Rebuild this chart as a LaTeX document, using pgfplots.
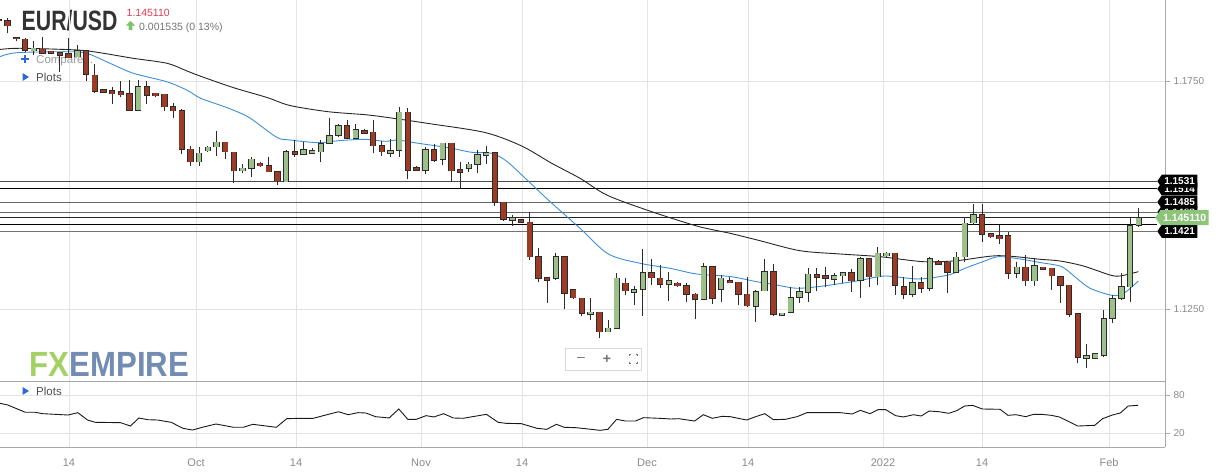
\documentclass[border=0pt]{standalone}
\usepackage{pgfplots}
\pgfplotsset{compat=1.18}
\usepackage{pgfplotstable}
\usepackage{fontspec}
\setmainfont{Liberation Sans}
\usetikzlibrary{shapes.symbols}
\definecolor{cgreen}{HTML}{9DC08B}
\definecolor{cred}{HTML}{9C3B26}
\definecolor{cedge}{HTML}{2B2B2B}
\definecolor{mablue}{HTML}{3D8FD6}
\definecolor{gridc}{HTML}{E3E3E3}
\definecolor{axisc}{HTML}{A8A8A8}
\definecolor{tickc}{HTML}{8A8A8A}
\definecolor{titlec}{HTML}{333333}
\definecolor{pricered}{HTML}{E03A55}
\definecolor{upgreen}{HTML}{7CC36A}
\definecolor{labgreen}{HTML}{8CC47A}
\definecolor{fxgreen}{HTML}{8DC63F}
\definecolor{fxblue}{HTML}{4F6FA0}
\definecolor{uiblue}{HTML}{2A6AD6}

\pgfplotstableread{
k o h l c
4 1.18171 1.18390 1.18077 1.18224
9 1.18040 1.18296 1.18040 1.18171
16 1.16871 1.17529 1.16871 1.17382
23 1.15737 1.16066 1.15643 1.15921
24 1.15978 1.16081 1.15956 1.16053
25 1.16066 1.16410 1.15869 1.16162
28 1.15540 1.15687 1.15483 1.15592
29 1.15592 1.15847 1.15408 1.15790
33 1.15298 1.15994 1.15292 1.15956
35 1.15899 1.16176 1.15884 1.15994
36 1.15921 1.16031 1.15921 1.15972
37 1.15956 1.16213 1.15724 1.16125
38 1.16140 1.16689 1.16140 1.16301
39 1.16322 1.16564 1.16285 1.16520
41 1.16250 1.16564 1.16228 1.16432
45 1.15921 1.16228 1.15847 1.15972
46 1.15994 1.16930 1.15847 1.16820
49 1.15555 1.16066 1.15467 1.15994
51 1.15796 1.16154 1.15665 1.16140
54 1.15592 1.15737 1.15518 1.15680
55 1.15680 1.15994 1.15496 1.15884
56 1.15884 1.16081 1.15687 1.15934
59 1.14458 1.14568 1.14327 1.14509
64 1.13180 1.13728 1.13143 1.13654
68 1.12390 1.12741 1.12265 1.12434
70 1.12009 1.12265 1.12009 1.12083
71 1.12083 1.13290 1.12083 1.13180
73 1.12873 1.13011 1.12594 1.12923
74 1.12939 1.13816 1.12353 1.13290
77 1.13048 1.13325 1.12682 1.13127
81 1.12719 1.13522 1.12719 1.13434
83 1.12939 1.13252 1.12667 1.13180
87 1.12572 1.12923 1.12215 1.12886
88 1.12908 1.13597 1.12908 1.13325
90 1.12369 1.12426 1.12353 1.12412
91 1.12441 1.12996 1.12412 1.12754
92 1.12763 1.12996 1.12632 1.12879
93 1.12873 1.13412 1.12660 1.13268
96 1.13158 1.13303 1.13033 1.13230
97 1.13237 1.13325 1.13070 1.13290
99 1.13143 1.13654 1.12741 1.13597
101 1.13215 1.13860 1.13033 1.13728
102 1.13676 1.13763 1.13654 1.13728
105 1.12829 1.13450 1.12763 1.13083
107 1.12961 1.13654 1.12908 1.13610
110 1.13312 1.13763 1.13290 1.13640
111 1.13654 1.14496 1.13544 1.14386
112 1.14399 1.14809 1.14349 1.14568
117 1.13290 1.13544 1.13180 1.13421
119 1.13127 1.13619 1.13011 1.13456
125 1.11426 1.11739 1.11206 1.11476
126 1.11426 1.11520 1.11404 1.11520
127 1.11498 1.12485 1.11447 1.12287
128 1.12303 1.12814 1.12206 1.12726
129 1.12741 1.13290 1.12704 1.12983
130 1.12996 1.14496 1.12667 1.14333
131 1.14349 1.14715 1.14312 1.14511
}\greencandles

\pgfplotstableread{
k o h l c
0 1.18850 1.18870 1.18830 1.18840
1 1.18829 1.18882 1.18553 1.18719
2 1.18456 1.18456 1.18390 1.18434
3 1.18421 1.18456 1.18149 1.18187
5 1.18202 1.18478 1.18114 1.18114
6 1.18158 1.18158 1.18114 1.18114
7 1.18121 1.18121 1.17711 1.18070
8 1.18105 1.18443 1.18018 1.18018
10 1.18171 1.18171 1.17507 1.17660
11 1.17632 1.17873 1.17250 1.17287
12 1.17309 1.17309 1.17259 1.17259
13 1.17287 1.17382 1.17002 1.17228
14 1.17265 1.17507 1.17149 1.17206
15 1.17222 1.17529 1.16871 1.16871
17 1.17382 1.17507 1.17002 1.17193
18 1.17237 1.17250 1.17149 1.17184
19 1.17215 1.17215 1.16849 1.16943
20 1.16943 1.17018 1.16689 1.16855
21 1.16849 1.16886 1.15906 1.16009
22 1.16009 1.16081 1.15643 1.15737
26 1.16162 1.16162 1.15796 1.15956
27 1.15943 1.15943 1.15276 1.15540
30 1.15702 1.15737 1.15627 1.15649
31 1.15643 1.15847 1.15518 1.15518
32 1.15518 1.15518 1.15226 1.15320
34 1.15956 1.16213 1.15833 1.15899
40 1.16520 1.16651 1.16250 1.16250
42 1.16410 1.16448 1.16360 1.16360
43 1.16382 1.16651 1.15921 1.16088
44 1.16081 1.16197 1.15862 1.15956
47 1.16820 1.16921 1.15351 1.15555
48 1.15599 1.15643 1.15548 1.15548
50 1.15994 1.16119 1.15737 1.15774
52 1.16140 1.16140 1.15298 1.15540
53 1.15555 1.15737 1.15132 1.15505
57 1.15934 1.15956 1.14765 1.14847
58 1.14847 1.14847 1.14443 1.14480
60 1.14458 1.14480 1.14393 1.14408
61 1.14408 1.14627 1.13581 1.13654
62 1.13654 1.13838 1.13092 1.13180
63 1.13193 1.13193 1.12632 1.13143
65 1.13654 1.13669 1.12500 1.12851
66 1.12923 1.12923 1.12719 1.12754
67 1.12741 1.12741 1.12353 1.12412
69 1.12434 1.12434 1.11864 1.12009
72 1.13070 1.13193 1.12814 1.12908
75 1.13290 1.13597 1.13033 1.13193
76 1.13180 1.13472 1.12974 1.13048
78 1.13070 1.13105 1.12996 1.13018
79 1.13018 1.13070 1.12667 1.12829
80 1.12829 1.12864 1.12281 1.12719
82 1.13434 1.13434 1.12616 1.12741
84 1.13127 1.13215 1.13070 1.13083
85 1.13092 1.13092 1.12594 1.12829
86 1.12829 1.13215 1.12557 1.12579
89 1.13325 1.13487 1.12353 1.12397
94 1.13252 1.13412 1.12901 1.13202
95 1.13230 1.13421 1.12996 1.13180
98 1.13290 1.13377 1.12886 1.13127
100 1.13597 1.13597 1.12983 1.13215
103 1.13728 1.13728 1.12814 1.13026
104 1.12996 1.13215 1.12719 1.12829
106 1.13083 1.13202 1.12851 1.12961
108 1.13544 1.13581 1.13487 1.13487
109 1.13531 1.13531 1.12851 1.13312
113 1.14568 1.14809 1.13983 1.14145
114 1.14151 1.14167 1.14057 1.14092
115 1.14108 1.14349 1.13926 1.14048
116 1.14108 1.14202 1.13158 1.13290
118 1.13421 1.13691 1.13018 1.13127
120 1.13421 1.13434 1.13377 1.13377
121 1.13399 1.13399 1.12923 1.13237
122 1.13215 1.13230 1.12632 1.13033
123 1.13026 1.13026 1.12338 1.12397
124 1.12397 1.12397 1.11316 1.11447
}\redcandles

\tikzset{
  sig/.style={signal, signal to=west, signal pointer angle=110, fill=black, text=white,
    font=\fontsize{10}{12}\selectfont\bfseries, inner xsep=2.5pt, inner ysep=1.5pt,
    minimum height=13pt, anchor=west}
}
\pgfplotsset{
  candlebar/.style={draw=none, mark=none, forget plot, error bars/.cd, y dir=plus, y explicit,
     error mark=none, error bar style={#1}}
}

\begin{document}
\begin{tikzpicture}[x=1pt,y=1pt]
\useasboundingbox (0,0) rectangle (1218,-474);

% header texts (drawn below the plot)
\node[anchor=base west, inner sep=0, text=titlec, font=\fontsize{28}{30}\selectfont\bfseries] at (21.5,-30.5) {\scalebox{0.76}[1]{EUR/USD}};
\node[anchor=base west, inner sep=0, text=pricered, font=\fontsize{10.5}{11}\selectfont] at (126.5,-16.5) {1.145110};
\fill[upgreen] (130.5,-21) -- (135.2,-25.5) -- (132.3,-25.5) -- (132.3,-30) -- (128.7,-30) -- (128.7,-25.5) -- (125.8,-25.5) -- cycle;
\node[anchor=base west, inner sep=0, text=black!55, font=\fontsize{10.5}{11}\selectfont] at (139,-30) {0.001535 (0.13\%)};
\draw[uiblue, line width=1.8pt] (20.5,-59.2) -- (29.3,-59.2) (24.9,-55) -- (24.9,-63.4);
\node[anchor=base west, inner sep=0, text=black!40, font=\fontsize{11.5}{12}\selectfont] at (36,-63.5) {Compare...};
\fill[uiblue] (22.5,-73) -- (29,-77) -- (22.5,-81) -- cycle;
\node[anchor=base west, inner sep=0, text=black!70, font=\fontsize{11.5}{12}\selectfont] at (36,-81.5) {Plots};

% logo
\node[anchor=base west, inner sep=0, font=\fontsize{35}{38}\selectfont\bfseries, opacity=0.8] at (29.5,-376) {\scalebox{0.89}[1]{\textcolor{fxgreen}{FX}\textcolor{fxblue}{EMPIRE}}};

% zoom controls
\draw[black!15, fill=white] (565,-348.5) rectangle (641,-370);
\node[text=black!55, font=\fontsize{14}{14}\selectfont] at (581,-359) {\textendash};
\node[text=black!55, font=\fontsize{14}{14}\selectfont\bfseries] at (607,-359) {+};
\draw[black!55, line width=0.9pt] (629,-356) -- (629,-354.5) -- (630.5,-354.5) (635.5,-354.5) -- (637,-354.5) -- (637,-356)
  (637,-362) -- (637,-363.5) -- (635.5,-363.5) (630.5,-363.5) -- (629,-363.5) -- (629,-362);

\begin{axis}[
  at={(0pt,0pt)}, anchor=north west,
  width=1165pt, height=381.7pt, scale only axis,
  xmin=0, xmax=1165, ymin=1.10912, ymax=1.19283,
  axis x line*=bottom, axis y line*=right,
  axis line style={-, draw=axisc, line width=0.8pt},
  xtick={69,196,296,421,522,647,748,883,982,1109}, xticklabels={},
  ytick={1.125,1.175},
  xmajorgrids, ymajorgrids, grid style={gridc, line width=0.7pt},
  major tick length=5pt, tick align=outside,
  xtick style={draw=none}, ytick style={draw=axisc, line width=0.6pt},
  /pgf/number format/assume math mode=true,
  yticklabel style={font=\fontsize{10}{12}\selectfont, text=tickc,
     /pgf/number format/.cd, fixed, fixed zerofill, precision=4},
]
% support / resistance lines
\addplot[black!70, line width=0.9pt] coordinates {(0,1.1531) (1157,1.1531)};
\addplot[black, line width=0.9pt] coordinates {(0,1.1514) (1157,1.1514)};
\addplot[black!60, line width=0.9pt] coordinates {(0,1.1485) (1157,1.1485)};
\addplot[black!60, line width=0.9pt] coordinates {(0,1.1463) (1157,1.1463)};
\addplot[black!85, line width=0.9pt] coordinates {(0,1.14511) (1157,1.14511)};
\addplot[black, line width=0.9pt] coordinates {(0,1.1435) (1157,1.1435)};
\addplot[black!55, line width=1.1pt] coordinates {(0,1.1421) (1157,1.1421)};

% moving averages
\addplot[black!85, line width=0.9pt, smooth] coordinates {
(0,1.18198) (20,1.18224) (76.7,1.18187) (100,1.18127) (133,1.18005) (167,1.17895) (187,1.17726) (200,1.17616) (233,1.17364) (267,1.17145) (290,1.16969) (328.3,1.16833) (368.3,1.16761) (398.3,1.16673) (428.3,1.16575) (485,1.16377) (521.7,1.16081) (551.7,1.15702) (580,1.15373) (606.7,1.15007) (646.7,1.14678) (696.7,1.14327) (730,1.14167) (760,1.14004) (800,1.13785) (840,1.13713) (880,1.13654) (923.3,1.13544) (956.7,1.13566) (998.3,1.13676) (1040,1.13597) (1060,1.13559) (1083.3,1.13450) (1110,1.13252) (1120,1.13230) (1138.3,1.13325)};
\addplot[mablue, line width=0.9pt, smooth] coordinates {
(0,1.18040) (16.7,1.18127) (66.7,1.18149) (86.7,1.18114) (110,1.17895) (133.3,1.17676) (166.7,1.17491) (186.7,1.17309) (200,1.17134) (216.7,1.17002) (233,1.16871) (250,1.16695) (276.7,1.16272) (290,1.16213) (318.3,1.16154) (338.3,1.16197) (365,1.16228) (385,1.16184) (398.3,1.16213) (411.7,1.16162) (435,1.16088) (451.7,1.16031) (471.7,1.15943) (491.7,1.15921) (505,1.15774) (518.3,1.15518) (548.3,1.14897) (580,1.14276) (608.3,1.13713) (640,1.13509) (670,1.13399) (696.7,1.13274) (730,1.13219) (756.7,1.13105) (776.7,1.13033) (796.7,1.12961) (823.3,1.13011) (860,1.13132) (885,1.13230) (918.3,1.13165) (948.3,1.13252) (965,1.13399) (982,1.13537) (998.3,1.13654) (1020,1.13603) (1040,1.13526) (1061.7,1.13434) (1076.7,1.13180) (1090,1.12961) (1110,1.12814) (1120,1.12814) (1128.3,1.12923) (1138.3,1.13121)};

% wicks
\addplot[candlebar={line width=0.9pt, draw=cedge}]
   table[x expr=7.7+8.7*(\thisrow{k}-1), y=l, y error plus expr=\thisrow{h}-\thisrow{l}] {\greencandles};
\addplot[candlebar={line width=0.9pt, draw=cedge}]
   table[x expr=7.7+8.7*(\thisrow{k}-1), y=l, y error plus expr=\thisrow{h}-\thisrow{l}] {\redcandles};
% body outlines
\addplot[candlebar={line width=6.4pt, draw=cedge}]
   table[x expr=7.7+8.7*(\thisrow{k}-1), y expr=\thisrow{o}-0.00017, y error plus expr=\thisrow{c}-\thisrow{o}+0.00034] {\greencandles};
\addplot[candlebar={line width=6.4pt, draw=cedge}]
   table[x expr=7.7+8.7*(\thisrow{k}-1), y expr=\thisrow{c}-0.00017, y error plus expr=\thisrow{o}-\thisrow{c}+0.00034] {\redcandles};
% body fills
\addplot[candlebar={line width=4.6pt, draw=cgreen}]
   table[x expr=7.7+8.7*(\thisrow{k}-1), y=o, y error plus expr=\thisrow{c}-\thisrow{o}] {\greencandles};
\addplot[candlebar={line width=4.6pt, draw=cred}]
   table[x expr=7.7+8.7*(\thisrow{k}-1), y=c, y error plus expr=\thisrow{o}-\thisrow{c}] {\redcandles};
\end{axis}

% indicator panel
\fill[uiblue] (22.5,-387) -- (29,-391) -- (22.5,-395) -- cycle;
\node[anchor=base west, inner sep=0, text=black!70, font=\fontsize{11.5}{12}\selectfont] at (36,-395.5) {Plots};

\begin{axis}[
  at={(0pt,-381.7pt)}, anchor=north west,
  width=1165pt, height=65.6pt, scale only axis,
  xmin=0, xmax=1165, ymin=-2.6, ymax=101,
  axis x line*=bottom, axis y line*=right,
  axis line style={-, draw=axisc, line width=0.8pt},
  xtick={69,196,296,421,522,647,748,883,982,1109},
  xticklabels={14,Oct,14,Nov,14,Dec,14,2022,14,Feb},
  ytick={20,80},
  xmajorgrids, ymajorgrids, grid style={gridc, line width=0.7pt},
  major tick length=5pt, tick align=outside,
  xtick style={draw=none}, ytick style={draw=axisc, line width=0.6pt},
  /pgf/number format/assume math mode=true,
  xticklabel style={font=\fontsize{11}{12}\selectfont, text=tickc, yshift=-3pt},
  yticklabel style={font=\fontsize{10}{12}\selectfont, text=tickc},
]
\addplot[black!90, line width=0.9pt] coordinates {
(0,66.9) (7.8,64.2) (25.3,52.7) (35,52.7) (42.8,50.5) (68.1,48.4) (77.8,52.1) (87.5,40.5) (95.3,36.9) (120.6,36.3) (130.4,31.0) (138.9,43.7) (147.9,41.0) (157.6,40.5) (171.2,36.9) (182.9,27.4) (192.6,24.7) (202.3,29.0) (216,34.2) (233.5,29.0) (243.2,29.0) (252.9,33.7) (276.3,29.0) (286.8,42.6) (299.6,43.2) (313.2,43.2) (338.5,53.6) (348.2,48.9) (358,52.1) (365.8,51.6) (375.5,45.8) (389.1,43.7) (398.8,57.9) (407.8,41.6) (416.3,41.6) (426.1,47.4) (433.9,45.3) (443.6,50.5) (453.3,43.7) (463,43.2) (486.4,49.5) (498.1,36.9) (505.8,35.3) (521.4,34.7) (537,27.4) (546.7,25.8) (556.4,33.7) (564.2,29.0) (575.9,28.4) (591.4,25.8) (600,24.2) (607.9,25.8) (616.6,41.6) (625.6,38.9) (635.5,38.9) (643.4,44.2) (659.1,43.2) (670.9,42.1) (678.8,42.6) (694.6,38.9) (703.3,48.9) (712.3,43.2) (722.2,46.3) (730.1,45.8) (746.6,40.5) (755.7,45.8) (764.8,50.5) (773.4,41.0) (785.3,41.6) (797.1,45.8) (806.9,52.1) (820.7,52.1) (840.4,52.1) (852.3,50.0) (860.2,55.8) (870,50.5) (877.9,56.8) (885.8,56.8) (895.6,47.4) (903.5,45.3) (913.4,48.9) (921.2,46.8) (929.1,54.7) (939,53.6) (948.8,51.1) (956.7,55.2) (964.6,62.6) (972.5,63.7) (982.3,57.9) (1000.1,57.4) (1008,47.9) (1015.8,48.9) (1025.7,45.8) (1033.6,49.5) (1041.5,49.5) (1051.3,47.9) (1059.2,45.3) (1067.1,39.4) (1077.7,31.0) (1094.7,32.1) (1102.6,42.6) (1112.4,48.4) (1120.3,51.6) (1128.2,62.6) (1138,63.7)};
\end{axis}

% price labels on the right
\node[sig] at (1157,-188.9) {1.1514};
\node[sig] at (1157,-181.2) {1.1531};
\node[sig] at (1157,-212.2) {1.1463};
\node[sig] at (1157,-202.1) {1.1485};
\node[sig] at (1157,-231.3) {1.1421};
\node[sig, fill=labgreen, font=\fontsize{10.5}{12}\selectfont\bfseries, minimum height=15pt] at (1155,-217.6) {1.145110};
\end{tikzpicture}
\end{document}
